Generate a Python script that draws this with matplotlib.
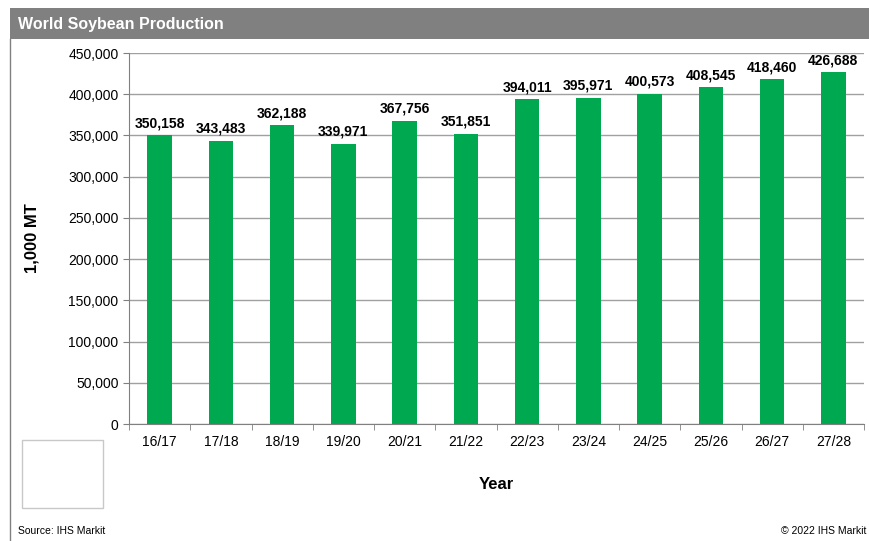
import matplotlib.pyplot as plt
from matplotlib.patches import Rectangle

years = ['16/17', '17/18', '18/19', '19/20', '20/21', '21/22',
         '22/23', '23/24', '24/25', '25/26', '26/27', '27/28']
production = [350158, 343483, 362188, 339971, 367756, 351851,
              394011, 395971, 400573, 408545, 418460, 426688]
yticks = list(range(0, 450001, 50000))

plt.rcParams['font.family'] = ['Liberation Sans', 'DejaVu Sans']

fig = plt.figure(figsize=(8.69, 5.41), dpi=100)

# header band and frame
fig.patches.append(Rectangle((10 / 869, 1 - 39 / 541), 1, 31 / 541,
                             transform=fig.transFigure, facecolor='#808080',
                             edgecolor='none'))
fig.lines.append(plt.Line2D([10 / 869, 10 / 869], [0, 1 - 39 / 541],
                            transform=fig.transFigure, color='#808080', lw=1))
fig.text(18 / 869, 1 - 24 / 541, 'World Soybean Production', color='white',
         fontsize=11.5, fontweight='bold', va='center', ha='left')

# empty legend box
fig.patches.append(Rectangle((22 / 869, 1 - 508 / 541), 81 / 869, 68 / 541,
                             transform=fig.transFigure, facecolor='white',
                             edgecolor='#c8c8c8', lw=1))

ax = fig.add_axes([129 / 869, 1 - 424 / 541, 735 / 869, 371 / 541])
x = range(len(years))
bars = ax.bar(x, production, width=0.4, color='#00A84F', zorder=3)
for xi, v in zip(x, production):
    ax.text(xi, v + 6000, f'{v:,}', ha='center', va='bottom',
            fontsize=10, fontweight='bold')

ax.set_xlim(-0.5, len(years) - 0.5)
ax.set_ylim(0, 450000)
ax.set_yticks(yticks)
ax.set_yticklabels([f'{t:,}' for t in yticks], fontsize=10)
ax.set_xticks(list(x))
ax.set_xticklabels(years, fontsize=10)
ax.tick_params(axis='x', length=0, pad=8)
ax.set_xticks([i - 0.5 for i in range(len(years) + 1)], minor=True)
ax.tick_params(axis='x', which='minor', length=4, color='#808080')
ax.tick_params(axis='y', length=4, color='#808080')
ax.grid(axis='y', color='#a0a0a0', lw=1, zorder=0)

for s in ['top', 'right']:
    ax.spines[s].set_visible(False)
for s in ['left', 'bottom']:
    ax.spines[s].set_color('#808080')

ax.set_ylabel('1,000 MT', fontsize=12, fontweight='bold', labelpad=21)
ax.set_xlabel('Year', fontsize=12, fontweight='bold', labelpad=20)

fig.text(18 / 869, 1 - 531 / 541, 'Source: IHS Markit', fontsize=7.5,
         va='center', ha='left')
fig.text(866 / 869, 1 - 531 / 541, '\u00a9 2022 IHS Markit', fontsize=7.5,
         va='center', ha='right')

fig.savefig('out.png', dpi=100)
